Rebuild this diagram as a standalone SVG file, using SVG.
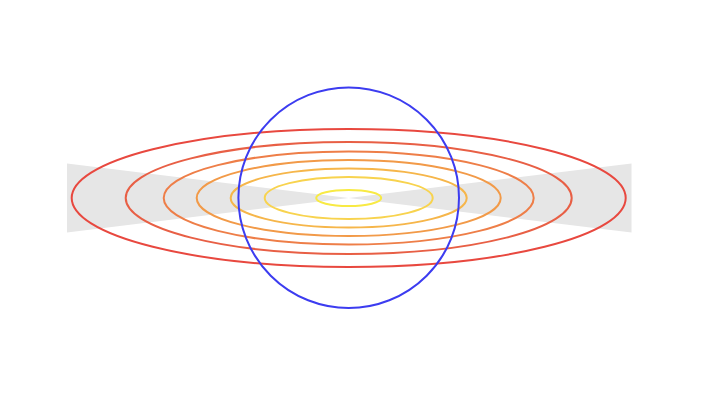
<svg xmlns="http://www.w3.org/2000/svg" width="720" height="406" viewBox="0 0 720 406">
<style>
.c{fill:none;stroke-width:2}
</style>
<rect width="720" height="406" fill="#ffffff"/>
<g id="cone">
<polygon points="67,163.5 348.7,198 67,232.5" fill="#e6e6e6"/>
<polygon points="631.5,163.5 348.7,198 631.5,232.5" fill="#e6e6e6"/>
</g>
<g id="contours">
<ellipse id="e1" class="c" cx="348.7" cy="198" rx="277" ry="69" stroke="#e8483f"/>
<ellipse id="e2" class="c" cx="348.7" cy="198" rx="223" ry="56" stroke="#e85f45"/>
<ellipse id="e3" class="c" cx="348.7" cy="198" rx="185" ry="46.5" stroke="#ee7e48"/>
<ellipse id="e4" class="c" cx="348.7" cy="198" rx="152" ry="38" stroke="#f29a48"/>
<ellipse id="e5" class="c" cx="348.7" cy="198" rx="118" ry="29.5" stroke="#f6b64a"/>
<ellipse id="e6" class="c" cx="348.7" cy="198" rx="84" ry="21" stroke="#f8d34e"/>
<ellipse id="e7" class="c" cx="348.7" cy="198" rx="32.5" ry="8" stroke="#f8ea44"/>
</g>
<g id="circle">
<circle class="c" cx="348.7" cy="197.7" r="110.3" stroke="#3c3cf0"/>
</g>
</svg>
